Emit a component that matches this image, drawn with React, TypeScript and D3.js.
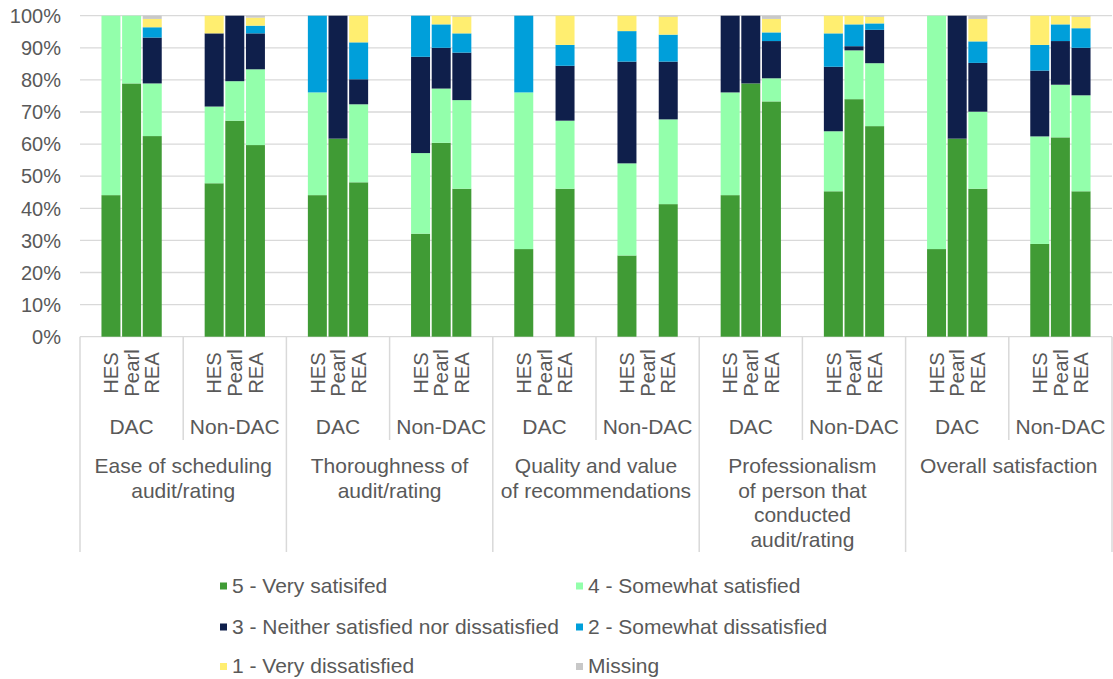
import React from "react";
import * as d3 from "d3";

const groups = [
  ["Ease of scheduling", "audit/rating"],
  ["Thoroughness of", "audit/rating"],
  ["Quality and value", "of recommendations"],
  ["Professionalism", "of person that", "conducted", "audit/rating"],
  ["Overall satisfaction"],
];
const subgroups = ["DAC", "Non-DAC"];
const products = ["HES", "Pearl", "REA"];

const seriesNames = [
  "5 - Very satisifed",
  "4 - Somewhat satisfied",
  "3 - Neither satisfied nor dissatisfied",
  "2 - Somewhat dissatisfied",
  "1 - Very dissatisfied",
  "Missing",
];
const seriesColors = ["#409B35", "#93FFAB", "#0F1F4B", "#009FDA", "#FFEE70", "#C8C8C8"];

// order: group -> subgroup (DAC, Non-DAC) -> product (HES, Pearl, REA)
const verySatisfied = [44.1, 78.9, 62.5, 47.8, 67.3, 59.7, 44.1, 61.7, 48.1, 32.1, 60.4, 46.1, 27.3, null, 46.1, 25.3, null, 41.3, 44.1, 78.9, 73.3, 45.3, 74.0, 65.6, 27.3, 61.7, 46.1, 28.9, 62.1, 45.3];
const somewhatSatisfied = [55.9, 21.1, 16.4, 23.9, 12.3, 23.6, 32.0, 0, 24.3, 25.1, 16.9, 27.6, 48.8, null, 21.2, 28.7, null, 26.4, 32.0, 0, 7.2, 18.7, 15.2, 19.6, 72.7, 0, 24.0, 33.5, 16.4, 29.9];
const neither = [0, 0, 14.3, 22.8, 20.4, 11.2, 0, 38.3, 7.8, 30.0, 12.7, 14.8, 0, null, 17.1, 31.7, null, 18.0, 23.9, 21.1, 11.6, 20.1, 1.3, 10.4, 0, 38.3, 15.2, 20.5, 13.6, 14.8];
const somewhatDissatisfied = [0, 0, 3.2, 0, 0, 2.4, 23.9, 0, 11.5, 12.8, 7.3, 6.0, 23.9, null, 6.5, 9.5, null, 8.4, 0, 0, 2.7, 10.4, 6.8, 2.0, 0, 0, 6.7, 8.0, 5.2, 6.1];
const veryDissatisfied = [0, 0, 2.6, 5.5, 0, 2.5, 0, 0, 8.3, 0, 2.7, 5.2, 0, null, 9.1, 4.8, null, 5.6, 0, 0, 4.2, 5.5, 2.7, 2.1, 0, 0, 7.0, 9.1, 2.7, 3.6];
const missing = [0, 0, 1.0, 0, 0, 0.6, 0, 0, 0, 0, 0, 0.3, 0, null, 0, 0, null, 0.3, 0, 0, 1.0, 0, 0, 0.3, 0, 0, 1.0, 0, 0, 0.3];

const yTicks = [0, 10, 20, 30, 40, 50, 60, 70, 80, 90, 100];

const seriesValues = [verySatisfied, somewhatSatisfied, neither, somewhatDissatisfied, veryDissatisfied, missing];

export default function App() {
  const W = 1113, H = 679;
  const left = 80, right = 1112, top = 15.7, bottom = 336.7;
  const font = "'Liberation Sans', Arial, sans-serif";
  const textColor = "#595959";
  const gridColor = "#D9D9D9";

  const subKeys: string[] = [];
  groups.forEach((_, gi) => subgroups.forEach((s) => subKeys.push(`${gi}-${s}`)));
  const xSub = d3.scaleBand<string>().domain(subKeys).range([left, right]).padding(0);
  const xInner = d3.scaleBand<string>().domain(["_a", ...products, "_b"]).range([0, xSub.bandwidth()]).paddingInner(0.08).paddingOuter(0.04);
  const y = d3.scaleLinear().domain([0, 100]).range([bottom, top]);

  const rows: any[] = [];
  let idx = 0;
  groups.forEach((_, gi) =>
    subgroups.forEach((s) =>
      products.forEach((p) => {
        const row: any = { key: `${gi}-${s}`, product: p, has: verySatisfied[idx] !== null };
        seriesNames.forEach((n, si) => (row[n] = seriesValues[si][idx] ?? 0));
        rows.push(row);
        idx++;
      })
    )
  );
  const stacked = d3.stack<any>().keys(seriesNames)(rows);

  const groupW = xSub.bandwidth() * 2;

  return (
    <svg width={W} height={H} style={{ position: "absolute", left: 0, top: 0, background: "#fff" }} fontFamily={font}>
      {yTicks.map((t) => (
        <g key={t}>
          <line x1={left} x2={right} y1={y(t)} y2={y(t)} stroke={gridColor} strokeWidth={1.3} />
          <text x={61} y={y(t)} dy="0.36em" textAnchor="end" fontSize={20} fill={textColor}>
            {t}%
          </text>
        </g>
      ))}
      {stacked.map((layer, si) => (
        <g key={si} fill={seriesColors[si]}>
          {layer.map((d, i) => {
            const r = rows[i];
            if (!r.has) return null;
            const h = y(d[0]) - y(d[1]);
            if (h <= 0) return null;
            return (
              <rect
                key={i}
                x={(xSub(r.key) as number) + (xInner(r.product) as number)}
                y={y(d[1])}
                width={xInner.bandwidth()}
                height={h}
              />
            );
          })}
        </g>
      ))}
      {/* product labels */}
      {rows.map((r, i) => {
        const cx = (xSub(r.key) as number) + (xInner(r.product) as number) + xInner.bandwidth() / 2;
        return (
          <text key={i} transform={`translate(${cx + 7.2},373) rotate(-90)`} textAnchor="middle" fontSize={20.3} fill={textColor}>
            {r.product}
          </text>
        );
      })}
      {/* subgroup labels */}
      {subKeys.map((k) => (
        <text key={k} x={(xSub(k) as number) + xSub.bandwidth() / 2} y={434} textAnchor="middle" fontSize={21} fill={textColor}>
          {k.split("-").slice(1).join("-")}
        </text>
      ))}
      {/* subgroup separators */}
      {groups.map((_, gi) => (
        <line key={gi} x1={xSub(`${gi}-Non-DAC`) as number} x2={xSub(`${gi}-Non-DAC`) as number} y1={bottom} y2={440} stroke={gridColor} strokeWidth={1.5} />
      ))}
      {/* group separators */}
      {d3.range(groups.length + 1).map((gi) => {
        const x = left + gi * groupW;
        return <line key={gi} x1={x} x2={x} y1={bottom} y2={552} stroke={gridColor} strokeWidth={1.5} />;
      })}
      {/* group labels */}
      {groups.map((lines, gi) => (
        <text key={gi} x={left + gi * groupW + groupW / 2} y={473} textAnchor="middle" fontSize={21} fill={textColor}>
          {lines.map((l, li) => (
            <tspan key={li} x={left + gi * groupW + groupW / 2} dy={li === 0 ? 0 : 24.7}>
              {l}
            </tspan>
          ))}
        </text>
      ))}
      {/* legend */}
      {seriesNames.map((n, si) => {
        const col = si % 2;
        const row = Math.floor(si / 2);
        const base = [592.5, 633.5, 673][row];
        const mx = col === 0 ? 220 : 576;
        return (
          <g key={n}>
            <rect x={mx} y={base - 10} width={7} height={7} fill={seriesColors[si]} />
            <text x={mx + 12} y={base} fontSize={21} fill={textColor}>
              {n}
            </text>
          </g>
        );
      })}
    </svg>
  );
}
